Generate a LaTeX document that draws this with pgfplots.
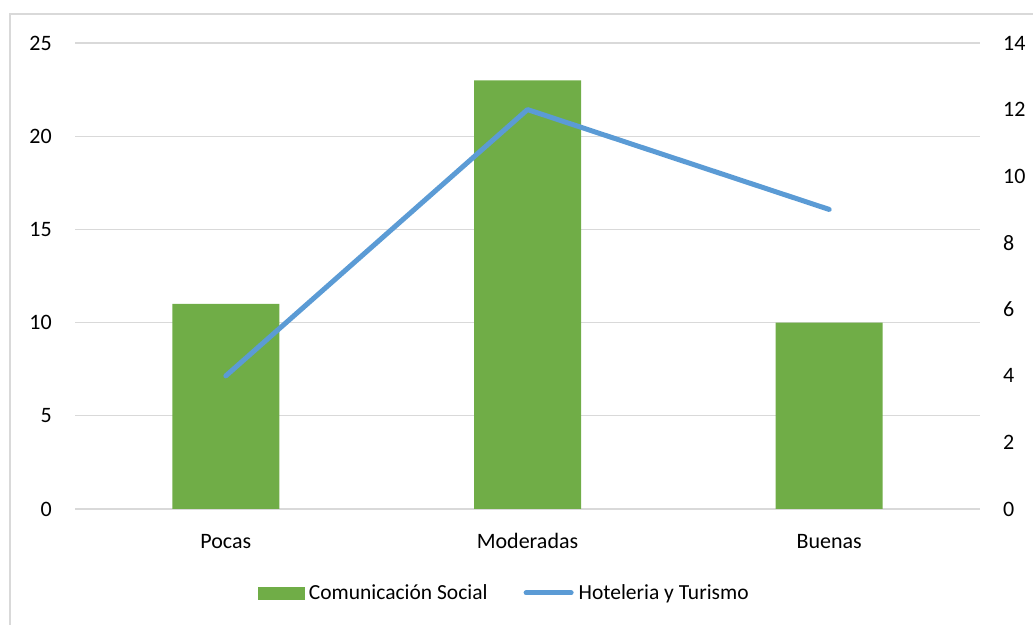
\documentclass[border=0pt]{standalone}
\usepackage{pgfplots}
\pgfplotsset{compat=1.18}
\usepackage{fontspec}
\setmainfont{Carlito}
\definecolor{barg}{HTML}{70AD47}
\definecolor{lineb}{HTML}{5B9BD5}
\definecolor{gridc}{HTML}{D9D9D9}
\begin{document}
\begin{tikzpicture}
\useasboundingbox (0pt,0pt) rectangle (1033pt,624pt);
\draw[gridc, line width=1.5pt] (10pt,-5pt) -- (10pt,610pt) -- (1040pt,610pt);
\pgfplotsset{
  base/.style={scale only axis, width=905pt, height=466pt, at={(75pt,115pt)}, anchor=south west,
    xmin=-0.5, xmax=2.5, ymin=0, axis line style={draw=none}, tick style={draw=none},
    tick label style={font=\fontsize{22}{26}\selectfont},
    /pgf/number format/assume math mode=true},
}
\begin{axis}[base, ymax=25, ytick={0,5,...,25}, ymajorgrids, grid style={gridc, line width=1.3pt},
  xtick={0,1,2}, xticklabels={Pocas,Moderadas,Buenas},
  xticklabel style={anchor=base, inner sep=0pt, yshift=-39pt},
  yticklabel style={anchor=east, inner sep=0pt, xshift=-23pt}]
\addplot[ybar, bar width=107pt, fill=barg, draw=none] coordinates {(0,11) (1,23) (2,10)};
\end{axis}
\begin{axis}[base, ymax=14, ytick={0,2,...,14}, xtick=\empty,
  yticklabel pos=right, ytick pos=right,
  yticklabel style={anchor=west, inner sep=0pt, xshift=23pt},
  legend columns=2,
  legend style={at={(axis description cs:0.473,-0.18)}, anchor=center, draw=none, fill=none,
    inner sep=0pt, font=\fontsize{21.5}{26}\selectfont,
    nodes={inner sep=0pt},
    /tikz/every odd column/.append style={column sep=5pt},
    /tikz/every even column/.append style={column sep=36pt}},
  legend cell align=left]
\addlegendimage{legend image code/.code={\fill[barg] (0pt,-6pt) rectangle (46pt,6pt);}}
\addlegendentry{Comunicación Social}
\addplot[lineb, line width=5pt, line cap=round, line join=round,
  legend image code/.code={\draw[lineb, line width=5pt, line cap=round] (2.5pt,0pt) -- (47.5pt,0pt);}]
  coordinates {(0,4) (1,12) (2,9)};
\addlegendentry{Hoteleria y Turismo}
\end{axis}
\end{tikzpicture}
\end{document}
